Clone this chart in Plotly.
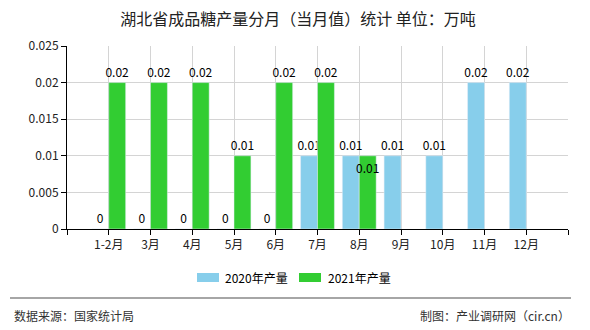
import plotly.graph_objects as go

# Monthly output of refined sugar in Hubei (unit: 10k tonnes)
months = ["1-2月", "3月", "4月", "5月", "6月", "7月", "8月", "9月", "10月", "11月", "12月"]
series_names = ["2020年产量", "2021年产量"]
output_2020 = [0, 0, 0, 0, 0, 0.01, 0.01, 0.01, 0.01, 0.02, 0.02]
output_2021 = [0.02, 0.02, 0.02, 0.01, 0.02, 0.02, 0.01, None, None, None, None]
colors = ["#87CEEB", "#32CD32"]
y_ticks = [0, 0.005, 0.01, 0.015, 0.02, 0.025]
y_tick_text = ["0", "0.005", "0.01", "0.015", "0.02", "0.025"]

FONT = "Noto Sans CJK SC"
idx = list(range(len(months)))

# plot area in pixels (used for paper-coordinate placement of extras)
W, H = 590, 330
L, R, T, B = 67, 22, 46, 101
PW, PH = W - L - R, H - T - B


def px(x):
    return (x - L) / PW


def py(y):
    return (H - B - y) / PH


def fmt(v):
    return "" if v is None else ("0" if v == 0 else f"{v:g}")


label_font = dict(family=FONT, size=12, color="#000")

fig = go.Figure()
fig.add_trace(go.Bar(
    x=idx, y=output_2020, name=series_names[0], marker_color=colors[0],
    text=[fmt(v) for v in output_2020], textposition="outside", textangle=0,
    textfont=label_font, cliponaxis=False,
    constraintext="none", showlegend=False,
))
pos_2021 = ["inside" if i == 6 else "outside" for i in idx]
fig.add_trace(go.Bar(
    x=idx, y=output_2021, name=series_names[1], marker_color=colors[1],
    text=[fmt(v) for v in output_2021], textposition=pos_2021, textangle=0,
    insidetextanchor="end",
    textfont=label_font, insidetextfont=label_font, outsidetextfont=label_font,
    cliponaxis=False, constraintext="none", showlegend=False,
))

tickvals = [-1] + idx + [len(months)]
ticktext = [""] + months + [""]

fig.update_layout(
    width=W, height=H,
    margin=dict(l=L, r=R, t=T, b=B),
    paper_bgcolor="white", plot_bgcolor="white",
    barmode="group", bargap=0.19, bargroupgap=0,
    font=dict(family=FONT, size=12, color="#222"),
    title=dict(text="湖北省成品糖产量分月（当月值）统计 单位：万吨",
               x=0.505, xref="container", xanchor="center",
               y=1 - 19 / H, yref="container", yanchor="middle",
               font=dict(family=FONT, size=16, color="#222")),
    xaxis=dict(range=[-1, len(months)], tickmode="array",
               tickvals=tickvals, ticktext=ticktext,
               showgrid=True, gridcolor="#d4d4d4", gridwidth=1,
               showline=True, linecolor="#000", linewidth=1,
               ticks="outside", ticklen=5, tickcolor="#000",
               tickfont=dict(family=FONT, size=12, color="#222"),
               zeroline=False, fixedrange=True),
    yaxis=dict(range=[0, 0.025], tickmode="array",
               tickvals=y_ticks, ticktext=y_tick_text,
               showgrid=True, gridcolor="#d4d4d4", gridwidth=1,
               showline=True, linecolor="#000", linewidth=1,
               ticks="outside", ticklen=5, tickcolor="#000",
               tickfont=dict(family=FONT, size=12, color="#222"),
               zeroline=False, fixedrange=True),
)

# legend drawn as swatches + labels
shapes = []
annotations = []
legend_items = [(197, 219, 223), (299, 321, 326)]
for (x0, x1, tx), name, c in zip(legend_items, series_names, colors):
    shapes.append(dict(type="rect", xref="paper", yref="paper",
                       x0=px(x0), x1=px(x1), y0=py(282), y1=py(273),
                       fillcolor=c, line=dict(width=0)))
    annotations.append(dict(text=name, xref="paper", yref="paper",
                            x=px(tx), y=py(277.5), xanchor="left", yanchor="middle",
                            showarrow=False,
                            font=dict(family=FONT, size=12, color="#000")))

# footer rule and credits
shapes.append(dict(type="line", xref="paper", yref="paper",
                   x0=px(10), x1=px(571), y0=py(298), y1=py(298),
                   line=dict(color="#888", width=1.5)))
annotations.append(dict(text="数据来源：国家统计局", xref="paper", yref="paper",
                        x=px(12), y=py(315), xanchor="left", yanchor="middle",
                        showarrow=False, font=dict(family=FONT, size=12, color="#333")))
annotations.append(dict(text="制图：产业调研网（cir.cn）", xref="paper", yref="paper",
                        x=px(572), y=py(315), xanchor="right", yanchor="middle",
                        showarrow=False, font=dict(family=FONT, size=12, color="#333")))

fig.update_layout(shapes=shapes, annotations=annotations)
fig.write_html("out.html")
